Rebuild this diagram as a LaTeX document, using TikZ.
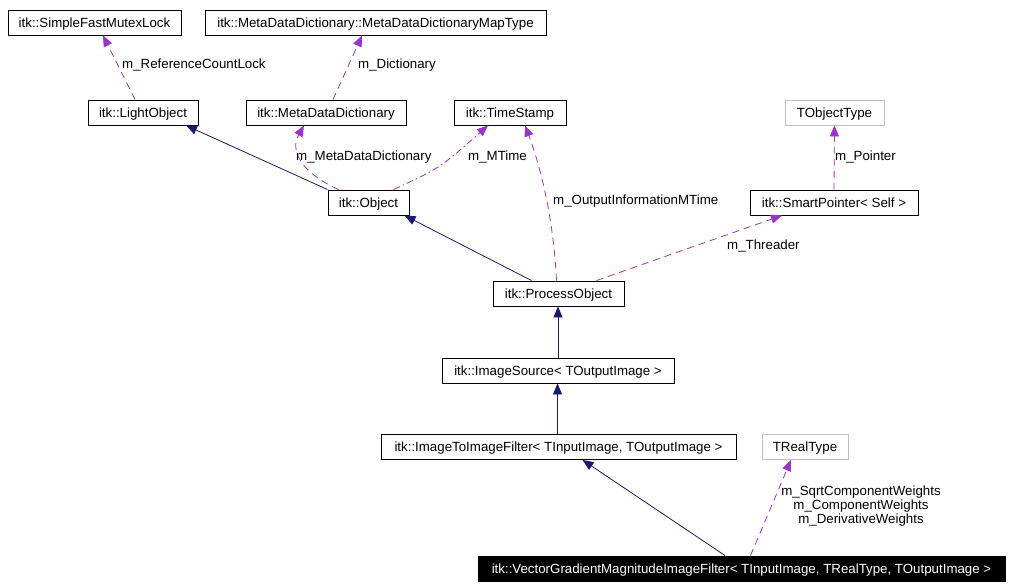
\documentclass[tikz,border=0pt]{standalone}
\usepackage{fontspec}
\setmainfont{Liberation Sans}
\usetikzlibrary{arrows.meta,calc}
\definecolor{navy}{HTML}{191970}
\definecolor{orchid}{HTML}{9A32CD}
\definecolor{greyb}{HTML}{BFBFBF}
\begin{document}
\begin{tikzpicture}[x=1pt,y=-1pt,
  every node/.style={font=\fontsize{13.3}{16}\selectfont},
  box/.style={draw=black,line width=0.9pt,fill=white,minimum height=25pt,inner sep=0pt,text height=9.6pt,text depth=0pt,anchor=center},
  gbox/.style={box,draw=greyb},
  hbox/.style={box,fill=black,text=white},
  inh/.style={draw=navy,line width=0.8pt,-{Triangle[length=11pt,width=9pt]},color=navy},
  dep/.style={draw=orchid,line width=0.8pt,dash pattern=on 7pt off 5pt,-{Triangle[length=11pt,width=9pt]},color=orchid},
  depdot/.style={dep,dash pattern=on 7pt off 3pt on 1.5pt off 3pt},
  lbl/.style={inner sep=0pt,text=black}]
\useasboundingbox (0,0) rectangle (1014,588);
\fill[white] (0,0) rectangle (1014,588);
% boxes
\node[box,minimum width=173pt] (sfml) at (94.5,22.5) {itk::SimpleFastMutexLock};
\node[box,minimum width=341pt] (map) at (375.5,22.5) {itk::MetaDataDictionary::MetaDataDictionaryMapType};
\node[box,minimum width=110pt] (light) at (143,112.5) {itk::LightObject};
\node[box,minimum width=160pt] (mdd) at (326,112.5) {itk::MetaDataDictionary};
\node[box,minimum width=112pt] (ts) at (510,112.5) {itk::TimeStamp};
\node[gbox,minimum width=99pt] (tobj) at (834.5,112.5) {TObjectType};
\node[box,minimum width=81pt] (obj) at (368.5,202.5) {itk::Object};
\node[box,minimum width=168pt] (sp) at (834,202.5) {itk::SmartPointer< Self >};
\node[box,minimum width=131pt] (po) at (558.5,293.5) {itk::ProcessObject};
\node[box,minimum width=232pt] (is) at (558,370.5) {itk::ImageSource< TOutputImage >};
\node[box,minimum width=355pt] (itif) at (558.5,447) {itk::ImageToImageFilter< TInputImage, TOutputImage >};
\node[gbox,minimum width=86pt] (treal) at (805,447) {TRealType};
\node[hbox,minimum width=527pt] (vg) at (741.5,568.5) {itk::VectorGradientMagnitudeImageFilter< TInputImage, TRealType, TOutputImage >};
% connectors
\draw[dep] ([xshift=-8pt]light.north) -- ([xshift=8.5pt]sfml.south);
\node[lbl,anchor=west] (l1) at (122,65) {m\_ReferenceCountLock};
\draw[dep] ([xshift=7pt]mdd.north) -- ([xshift=-13.5pt]map.south);
\node[lbl,anchor=west] (l2) at (358,65) {m\_Dictionary};
\draw[inh] (obj.north west) -- ([xshift=43pt]light.south);
\draw[dep] ([xshift=-30pt]obj.north) .. controls (300,172) and (290,150) .. ([xshift=-22pt]mdd.south);
\node[lbl,anchor=west] (l3) at (296,157) {m\_MetaDataDictionary};
\draw[depdot] ([xshift=25pt]obj.north) .. controls (440,168) .. ([xshift=-22pt]ts.south);
\node[lbl,anchor=west] (l4) at (468,157) {m\_MTime};
\draw[inh] ([xshift=-27pt]po.north) -- ([xshift=36pt]obj.south);
\draw[dep] ([xshift=-2pt]po.north) .. controls (553,210) and (538,160) .. ([xshift=15pt]ts.south);
\node[lbl,anchor=west] (l5) at (553,201) {m\_OutputInformationMTime};
\draw[dep] ([xshift=38pt]po.north) -- ([xshift=-52pt]sp.south);
\node[lbl,anchor=west] (l6) at (727,246) {m\_Threader};
\draw[dep] (sp.north) -- (tobj.south);
\node[lbl,anchor=west] (l7) at (835,157) {m\_Pointer};
\draw[inh] (is.north) -- (po.south -| is.north);
\draw[inh] ([xshift=-1pt]itif.north) -- ([xshift=-1pt]itif.north |- is.south);
\draw[inh] ([xshift=-16.5pt]vg.north) -- ([xshift=24pt]itif.south);
\draw[dep] ([xshift=9pt]vg.north) -- ([xshift=-14pt]treal.south);
\node[lbl,align=center] (l8) at (861,506) {m\_SqrtComponentWeights\\[-2pt]m\_ComponentWeights\\[-2pt]m\_DerivativeWeights};
\end{tikzpicture}
\end{document}
